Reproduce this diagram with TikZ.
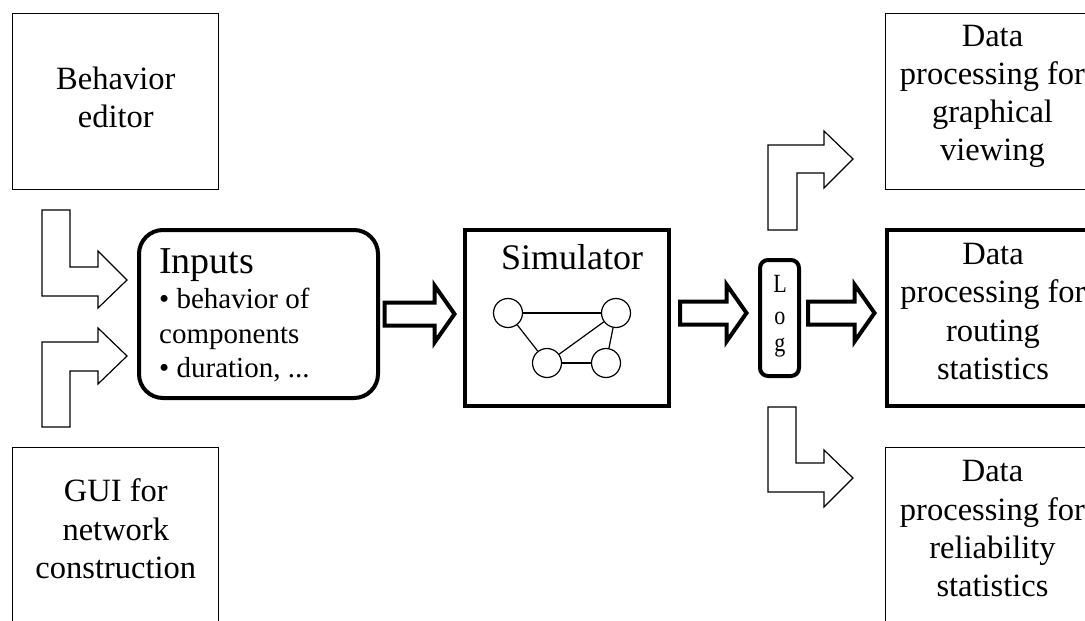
\documentclass[tikz,border=0pt]{standalone}
\usepackage{fontspec}
\setmainfont{Liberation Serif}
\usetikzlibrary{calc}
\newcommand\mainsz{\fontsize{32.5pt}{38.3pt}\selectfont}
\newcommand\titlesz{\fontsize{38pt}{40pt}\selectfont}
\newcommand\bulletsz{\fontsize{29pt}{34pt}\selectfont}
\newcommand\simsz{\fontsize{36pt}{40pt}\selectfont}
\newcommand\logsz{\fontsize{21pt}{31pt}\selectfont}
\newcommand\logletter[1]{\scalebox{1.05}[1.25]{\logsz #1}}
\newcommand\fatarrow[2]{%
  \draw[fat] let \p1=(#1), \p2=(#2) in
    (\x1,\y1+11.5pt) -- (\x2-20pt,\y1+11.5pt) -- (\x2-20pt,\y1+28.5pt) --
    (\x2,\y1) -- (\x2-20pt,\y1-28.5pt) -- (\x2-20pt,\y1-11.5pt) --
    (\x1,\y1-11.5pt) -- cycle;}
\begin{document}
\begin{tikzpicture}[x=1pt,y=-1pt,
  thinbox/.style={draw, line width=1.2pt, minimum width=206pt, minimum height=176pt, inner sep=0pt},
  thickbox/.style={thinbox, line width=4pt},
  boxtext/.style={align=center, font=\mainsz, inner sep=0pt},
  logtext/.style={anchor=base, inner sep=0pt},
  hollow/.style={draw, line width=1.2pt, line join=miter},
  fat/.style={draw, line width=4pt, line join=miter},
  dot/.style={circle, draw, line width=1.2pt, minimum size=29pt, inner sep=0pt},
  link/.style={line width=1.2pt}]
\useasboundingbox (0,0) rectangle (1085,621);
\clip (0,0) rectangle (1085,621);

% left boxes
\node[thinbox] (behavior) at (115.8,101.4) {};
\node[boxtext] (behaviortext) at ([yshift=4pt]behavior.center) {Behavior\\editor};
\node[thinbox] (gui) at (115.8,535.5) {};
\node[boxtext] (guitext) at ([yshift=6.6pt]gui.center) {GUI for\\network\\construction};

% inputs
\node[draw, line width=4pt, rounded corners=24pt, minimum width=239pt, minimum height=168pt, inner sep=0pt] (inputs) at (258.5,314) {};
\node[anchor=base west, inner sep=0pt, font=\titlesz] (intitle) at (159,273) {Inputs};
\node[anchor=base west, inner sep=0pt, font=\bulletsz] (inb1) at (159,308) {• behavior of};
\node[anchor=base west, inner sep=0pt, font=\bulletsz] (inb2) at (159,343) {components};
\node[anchor=base west, inner sep=0pt, font=\bulletsz] (inb3) at (159,377) {• duration, ...};

% simulator
\node[thickbox, minimum width=204pt] (sim) at (567,318) {};
\node[anchor=base, inner sep=0pt, font=\simsz] (simtitle) at (572,269) {Simulator};
\node[dot] (c1) at (508,313) {};
\node[dot] (c2) at (616,313) {};
\node[dot] (c3) at (547,363) {};
\node[dot] (c4) at (606,363) {};
\draw[link] (c1) -- (c2);
\draw[link] (c1) -- (c3);
\draw[link] (c3) -- (c2);
\draw[link] (c3) -- (c4);
\draw[link] (c4) -- (c2);

% log
\node[draw, line width=4pt, rounded corners=8pt, minimum width=39pt, minimum height=116pt, inner sep=0pt] (log) at (779.5,318) {};
\node[logtext] (logL) at (780,292) {\logletter{L}};
\node[logtext] (logO) at (780,324) {\logletter{o}};
\node[logtext] (logG) at (780,351) {\logletter{g}};

% right boxes
\node[thinbox, minimum width=210pt] (graph) at (990.5,101.4) {};
\node[boxtext] (graphtext) at ([yshift=5pt,xshift=2pt]graph.center) {Data\\processing for\\graphical\\viewing};
\node[thickbox, minimum width=208pt] (routing) at (991,318) {};
\node[boxtext] (routingtext) at ([yshift=6.6pt,xshift=2pt]routing.center) {Data\\processing for\\routing\\statistics};
\node[thinbox, minimum width=210pt] (reliab) at (990.5,535.5) {};
\node[boxtext] (reliabtext) at ([yshift=6.6pt,xshift=2pt]reliab.center) {Data\\processing for\\reliability\\statistics};

% thick arrows
\fatarrow{$(inputs.east)+(4.5,0)$}{$(sim.west)+(-8.5,0)$}
\fatarrow{$(sim.east)+(9,-5)$}{$(log.west)+(-11.5,-5)$}
\fatarrow{$(log.east)+(7,-5)$}{$(routing.west)+(-10.5,-5)$}

% hollow bent arrows
\path[hollow] (42,210) -- (70,210) -- (70,267) -- (98,267) -- (98,251) -- (127,280)
  -- (98,308) -- (98,296) -- (42,296) -- cycle;
\path[hollow] (42,427) -- (42,342) -- (98,342) -- (98,328) -- (127,356)
  -- (98,384) -- (98,371) -- (70,371) -- (70,427) -- cycle;
\path[hollow] (768,230) -- (768,145) -- (824,145) -- (824,131) -- (853,159)
  -- (824,188) -- (824,173) -- (797,173) -- (797,230) -- cycle;
\path[hollow] (768,407) -- (796,407) -- (796,463) -- (824,463) -- (824,450) -- (853,478)
  -- (824,507) -- (824,492) -- (768,492) -- cycle;
\end{tikzpicture}
\end{document}
